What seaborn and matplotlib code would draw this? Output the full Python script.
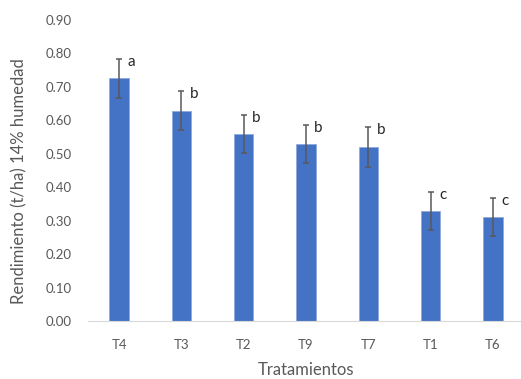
import matplotlib
matplotlib.use('Agg')
import matplotlib.pyplot as plt
import seaborn as sns
import pandas as pd

# values
tratamientos = ['T4', 'T3', 'T2', 'T9', 'T7', 'T1', 'T6']
rendimiento = [0.726, 0.629, 0.560, 0.528, 0.521, 0.328, 0.311]
error = [0.058, 0.058, 0.057, 0.057, 0.060, 0.057, 0.057]
letras = ['a', 'b', 'b', 'b', 'b', 'c', 'c']
yticks = [0.0, 0.1, 0.2, 0.3, 0.4, 0.5, 0.6, 0.7, 0.8, 0.9]

df = pd.DataFrame({'trat': tratamientos, 'rend': rendimiento, 'err': error})

sns.set_style('white')
plt.rcParams['font.family'] = ['Lato', 'DejaVu Sans']

gray = '#595959'
fig = plt.figure(figsize=(5.21, 3.79), dpi=100)
ax = fig.add_axes([88 / 521, 1 - 321 / 379, 436 / 521, 301 / 379])

sns.barplot(data=df, x='trat', y='rend', color='#4472C4', width=0.31,
            saturation=1, errorbar=None, edgecolor='#8FAADC', linewidth=0.6, ax=ax)
ax.errorbar(range(len(df)), df['rend'], yerr=df['err'], fmt='none',
            ecolor=gray, elinewidth=1.1, capsize=2.5, capthick=1.1)

# significance letters next to the error bar caps
for i, (v, e, l) in enumerate(zip(rendimiento, error, letras)):
    ax.annotate(l, (i, v + e), xytext=(6, -5), textcoords='offset points',
                ha='left', va='baseline', fontsize=11, color='#262626')

ax.set_ylim(0, 0.9)
ax.set_xlim(-0.5, len(tratamientos) - 0.5)
ax.set_yticks(yticks)
ax.set_yticklabels([f'{t:.2f}' for t in yticks])
ax.tick_params(axis='y', length=0, pad=12, labelsize=9.5, labelcolor=gray)
ax.tick_params(axis='x', length=0, pad=13, labelsize=9.5, labelcolor=gray)

for s in ['top', 'right', 'left']:
    ax.spines[s].set_visible(False)
ax.spines['bottom'].set_color('#D9D9D9')
ax.spines['bottom'].set_linewidth(0.8)

ax.set_xlabel('Tratamientos', fontsize=12, color=gray)
ax.set_ylabel('Rendimiento (t/ha) 14% humedad', fontsize=12, color=gray)
ax.xaxis.set_label_coords(0.5, -0.135)
ax.yaxis.set_label_coords(-0.14, 0.465)

plt.savefig('out.png', dpi=100)
plt.close()
